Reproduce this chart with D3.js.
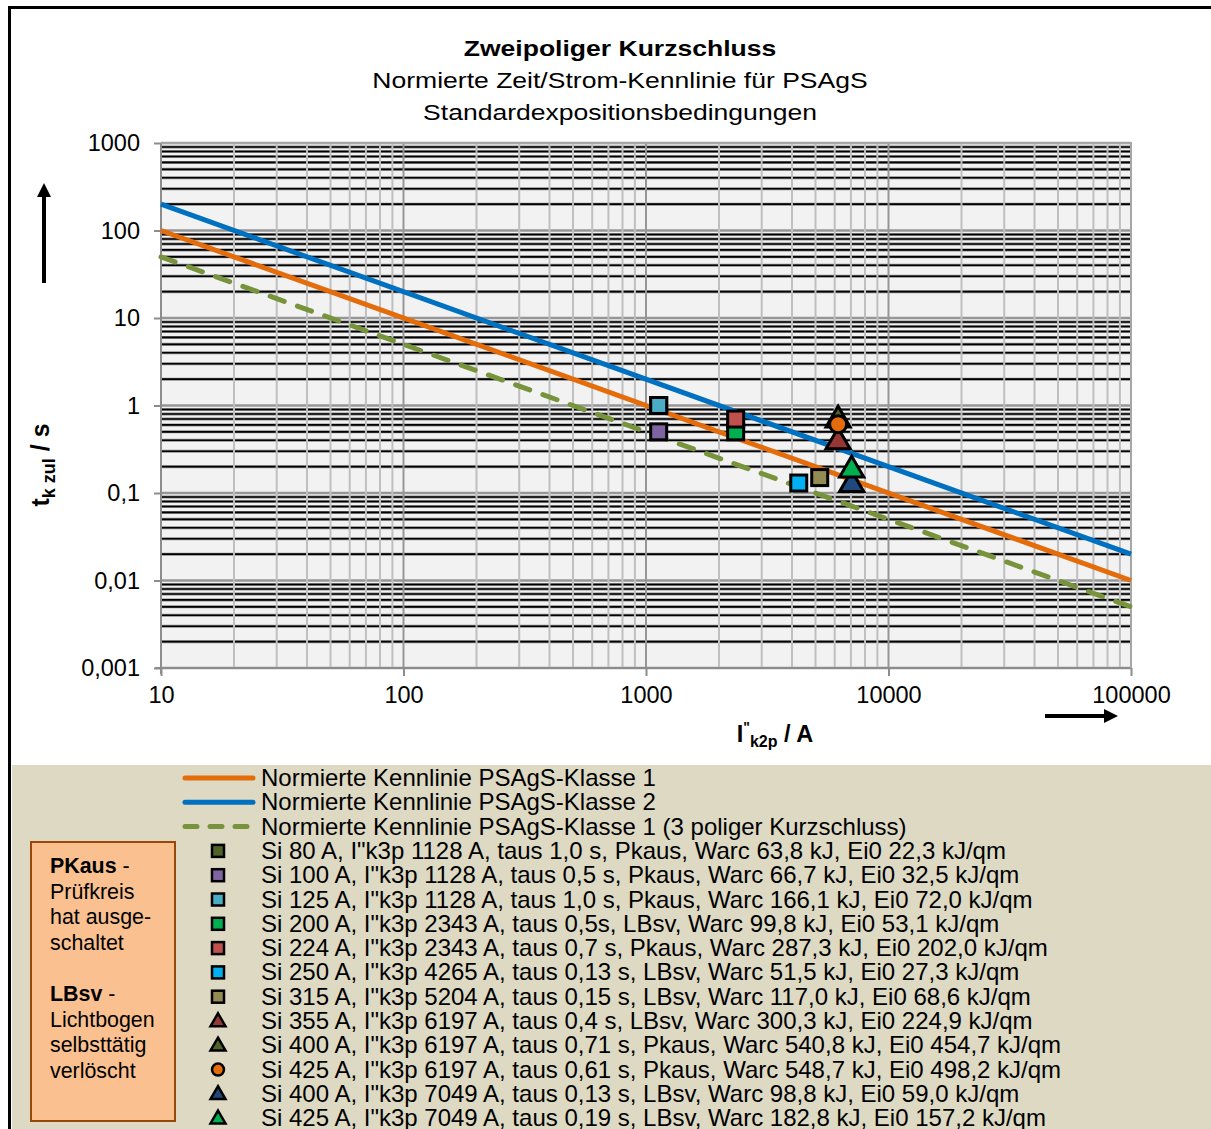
<!DOCTYPE html>
<html><head><meta charset="utf-8">
<script src="https://cdn.jsdelivr.net/npm/d3@7"></script>
<style>
html,body{margin:0;padding:0;background:#fff;}
svg{display:block;font-family:"Liberation Sans",Arial,sans-serif;}
</style></head>
<body>
<svg id="c" width="1211" height="1129"></svg>
<script>
// ---------- data ----------
const lineCurrents = [10, 100000];
const klasse1 = [100, 0.01];
const klasse2 = [200, 0.02];
const klasse1_3pol = [50, 0.005];
const lineNames = ["Normierte Kennlinie PSAgS-Klasse 1","Normierte Kennlinie PSAgS-Klasse 2","Normierte Kennlinie PSAgS-Klasse 1 (3 poliger Kurzschluss)"];
const lineColors = ["#e46c0a","#0070c0","#77933c"];

const pointCurrent = [1128,1128,1128,2343,2343,4265,5204,6197,6197,6197,7049,7049];
const pointTime    = [1.0,0.5,1.0,0.5,0.7,0.13,0.15,0.4,0.71,0.61,0.13,0.19];
const pointShape   = ["square","square","square","square","square","square","square","triangle","triangle","circle","triangle","triangle"];
const pointColor   = ["#4f6228","#8064a2","#4bacc6","#00b050","#c0504d","#00b0f0","#948a54","#953735","#4f6228","#e46c0a","#1f497d","#00b050"];
const pointLabels = [
 "Si 80 A, I\"k3p 1128 A, taus 1,0 s, Pkaus, Warc 63,8 kJ, Ei0 22,3 kJ/qm",
 "Si 100 A, I\"k3p 1128 A, taus 0,5 s, Pkaus, Warc 66,7 kJ, Ei0 32,5 kJ/qm",
 "Si 125 A, I\"k3p 1128 A, taus 1,0 s, Pkaus, Warc 166,1 kJ, Ei0 72,0 kJ/qm",
 "Si 200 A, I\"k3p 2343 A, taus 0,5s, LBsv, Warc 99,8 kJ, Ei0 53,1 kJ/qm",
 "Si 224 A, I\"k3p 2343 A, taus 0,7 s, Pkaus, Warc 287,3 kJ, Ei0 202,0 kJ/qm",
 "Si 250 A, I\"k3p 4265 A, taus 0,13 s, LBsv, Warc 51,5 kJ, Ei0 27,3 kJ/qm",
 "Si 315 A, I\"k3p 5204 A, taus 0,15 s, LBsv, Warc 117,0 kJ, Ei0 68,6 kJ/qm",
 "Si 355 A, I\"k3p 6197 A, taus 0,4 s, LBsv, Warc 300,3 kJ, Ei0 224,9 kJ/qm",
 "Si 400 A, I\"k3p 6197 A, taus 0,71 s, Pkaus, Warc 540,8 kJ, Ei0 454,7 kJ/qm",
 "Si 425 A, I\"k3p 6197 A, taus 0,61 s, Pkaus, Warc 548,7 kJ, Ei0 498,2 kJ/qm",
 "Si 400 A, I\"k3p 7049 A, taus 0,13 s, LBsv, Warc 98,8 kJ, Ei0 59,0 kJ/qm",
 "Si 425 A, I\"k3p 7049 A, taus 0,19 s, LBsv, Warc 182,8 kJ, Ei0 157,2 kJ/qm"
];
const xTickValues = [10,100,1000,10000,100000];
const xTickLabels = ["10","100","1000","10000","100000"];
const yTickValues = [0.001,0.01,0.1,1,10,100,1000];
const yTickLabels = ["0,001","0,01","0,1","1","10","100","1000"];
const titleLines = ["Zweipoliger Kurzschluss","Normierte Zeit/Strom-Kennlinie für PSAgS","Standardexpositionsbedingungen"];

// ---------- layout ----------
const svg = d3.select("#c");
const L = 161, R = 1131, T = 143, B = 668;
const x = d3.scaleLog().domain([10,100000]).range([L,R]);
const y = d3.scaleLog().domain([0.001,1000]).range([B,T]);
const FS = 23.5;

// outer frame
svg.append("rect").attr("x",0).attr("y",0).attr("width",1211).attr("height",1129).attr("fill","#fff");
svg.append("rect").attr("x",12).attr("y",765).attr("width",1199).attr("height",364).attr("fill","#ddd9c3");
svg.append("path").attr("d","M9.5,1129 V7.5 H1211").attr("fill","none").attr("stroke","#000").attr("stroke-width",3);

// title
titleLines.forEach((t,i)=>{
  svg.append("text").attr("transform",`translate(620,${56+i*32}) scale(1.19,1)`).attr("text-anchor","middle")
    .attr("font-size",22.3).attr("font-weight",i===0?"bold":"normal").attr("fill","#000").text(t);
});

// plot bg
svg.append("rect").attr("x",L).attr("y",T).attr("width",R-L).attr("height",B-T).attr("fill","#f2f2f2");

// grid
const minorX=[], minorY=[];
for(let d=10; d<100000; d*=10) for(let k=2;k<=9;k++) minorX.push(d*k);
for(let d=0.001; d<999; d*=10) for(let k=2;k<=9;k++) minorY.push(+(d*k).toPrecision(3));
const g = svg.append("g");
g.selectAll(".hy1").data(minorY).join("line").attr("x1",L).attr("x2",R).attr("y1",d=>y(d)).attr("y2",d=>y(d))
  .attr("stroke","#8a8a8a").attr("stroke-width",3);
g.selectAll(".hy2").data(minorY).join("line").attr("x1",L).attr("x2",R).attr("y1",d=>y(d)).attr("y2",d=>y(d))
  .attr("stroke","#000").attr("stroke-width",1.6);
g.selectAll(".hY").data(yTickValues).join("line").attr("x1",L).attr("x2",R).attr("y1",d=>y(d)).attr("y2",d=>y(d))
  .attr("stroke","#969696").attr("stroke-width",2.5);
g.selectAll(".vx").data(minorX).join("line").attr("x1",d=>x(d)).attr("x2",d=>x(d)).attr("y1",T).attr("y2",B)
  .attr("stroke","#bfbfbf").attr("stroke-width",2);
g.selectAll(".vX").data(xTickValues).join("line").attr("x1",d=>x(d)).attr("x2",d=>x(d)).attr("y1",T).attr("y2",B)
  .attr("stroke","#969696").attr("stroke-width",2);

// axes
const xAxis = d3.axisBottom(x).tickValues(xTickValues).tickFormat((d,i)=>xTickLabels[i]).tickSize(8).tickPadding(10);
const gx = svg.append("g").attr("transform",`translate(0,${B})`).call(xAxis);
gx.select(".domain").attr("stroke","#8c8c8c").attr("stroke-width",2).attr("d",`M${L-6},0H${R}`);
gx.selectAll(".tick line").attr("stroke","#8c8c8c").attr("stroke-width",2);
gx.selectAll("text").attr("font-size",FS).attr("fill","#000").attr("font-family","Liberation Sans, Arial, sans-serif");

const yAxis = d3.axisLeft(y).tickValues(yTickValues).tickFormat((d,i)=>yTickLabels[i]).tickSize(7).tickPadding(14);
const gy = svg.append("g").attr("transform",`translate(${L},0)`).call(yAxis);
gy.select(".domain").attr("stroke","#8c8c8c").attr("stroke-width",2).attr("d",`M0,${T}V${B+6}`);
gy.selectAll(".tick line").attr("stroke","#8c8c8c").attr("stroke-width",2);
gy.selectAll("text").attr("font-size",FS).attr("fill","#000").attr("font-family","Liberation Sans, Arial, sans-serif");

// right/top border of plot
svg.append("path").attr("d",`M${L},${T}H${R}V${B}`).attr("fill","none").attr("stroke","#a6a6a6").attr("stroke-width",2);

// lines
const lineData = [klasse1, klasse2, klasse1_3pol];
const lineGen = d3.line().x(d=>x(d[0])).y(d=>y(d[1]));
lineData.forEach((vals,i)=>{
  svg.append("path").datum(lineCurrents.map((c,j)=>[c,vals[j]]))
    .attr("d",lineGen).attr("fill","none").attr("stroke",lineColors[i]).attr("stroke-width",5)
    .attr("stroke-dasharray", i===2?"15,14":null).attr("stroke-linecap",i===2?"round":"butt");
});

// markers
function marker(sel, shape, cx, cy, s, color, sw){
  if(shape==="square"){
    sel.append("rect").attr("x",cx-s/2).attr("y",cy-s/2).attr("width",s).attr("height",s)
      .attr("fill",color).attr("stroke","#000").attr("stroke-width",sw);
  } else if(shape==="triangle"){
    const h = s*0.95, w = s*1.15;
    sel.append("path").attr("d",`M${cx},${cy-h*0.62}L${cx+w/2},${cy+h*0.42}L${cx-w/2},${cy+h*0.42}Z`)
      .attr("fill",color).attr("stroke","#000").attr("stroke-width",sw).attr("stroke-linejoin","miter");
  } else {
    sel.append("circle").attr("cx",cx).attr("cy",cy).attr("r",s/2).attr("fill",color).attr("stroke","#000").attr("stroke-width",sw);
  }
}
const mg = svg.append("g");
pointCurrent.forEach((c,i)=>{
  const s = pointShape[i]==="square"?16:(pointShape[i]==="triangle"?21:17);
  marker(mg, pointShape[i], x(c), y(pointTime[i]), s, pointColor[i], 3);
});

// axis titles
const yl = svg.append("text").attr("transform","translate(49,465) rotate(-90)").attr("text-anchor","middle")
  .attr("font-size",25).attr("font-weight","bold").attr("fill","#000");
yl.append("tspan").text("t");
yl.append("tspan").attr("font-size",18).attr("dy",6).text("k zul");
yl.append("tspan").attr("dy",-6).text(" / s");

const xl = svg.append("text").attr("x",775).attr("y",742).attr("text-anchor","middle")
  .attr("font-size",FS).attr("font-weight","bold").attr("fill","#000");
xl.append("tspan").text("I");
xl.append("tspan").attr("font-size",14).attr("dy",-10).text("\"");
xl.append("tspan").attr("font-size",16).attr("dy",15).text("k2p");
xl.append("tspan").attr("dy",-5).text(" / A");

// arrows
function arrow(x1,y1,x2,y2){
  const ang = Math.atan2(y2-y1,x2-x1), hl=14, hw=7;
  const bx = x2 - hl*Math.cos(ang), by = y2 - hl*Math.sin(ang);
  svg.append("line").attr("x1",x1).attr("y1",y1).attr("x2",bx).attr("y2",by).attr("stroke","#000").attr("stroke-width",4);
  svg.append("path").attr("d",`M${x2},${y2}L${bx - hw*Math.sin(ang)},${by + hw*Math.cos(ang)}L${bx + hw*Math.sin(ang)},${by - hw*Math.cos(ang)}Z`).attr("fill","#000");
}
arrow(44,283,44,183);
arrow(1045,716,1118,716);

// legend
const lg = svg.append("g");
const legY0 = 778, legDy = 24.3;
lineNames.forEach((n,i)=>{
  const yy = legY0 + i*legDy;
  lg.append("line").attr("x1",185).attr("x2",253).attr("y1",yy).attr("y2",yy)
    .attr("stroke",lineColors[i]).attr("stroke-width",5).attr("stroke-linecap","round")
    .attr("stroke-dasharray", i===2?"12,13":null);
  lg.append("text").attr("x",261).attr("y",yy+8).attr("font-size",24).attr("fill","#000").text(n);
});
pointLabels.forEach((n,i)=>{
  const yy = legY0 + (i+3)*legDy;
  const s = pointShape[i]==="square"?12:(pointShape[i]==="triangle"?13:12);
  marker(lg, pointShape[i], 218, yy, s, pointColor[i], 2.5);
  lg.append("text").attr("x",261).attr("y",yy+8).attr("font-size",24).attr("fill","#000").text(n);
});

// info box
svg.append("rect").attr("x",31).attr("y",842).attr("width",144).attr("height",279).attr("fill","#fac090").attr("stroke","#984807").attr("stroke-width",2);
const info = [["PKaus"," -",true],["Prüfkreis"],["hat ausge-"],["schaltet"],[""],["LBsv"," -",true],["Lichtbogen"],["selbsttätig"],["verlöscht"]];
info.forEach((r,i)=>{
  const t = svg.append("text").attr("x",50).attr("y",873+i*25.6).attr("font-size",21.4).attr("fill","#000");
  if(r[2]){ t.append("tspan").attr("font-weight","bold").text(r[0]); t.append("tspan").text(r[1]); }
  else t.text(r[0]);
});
</script>
</body></html>
